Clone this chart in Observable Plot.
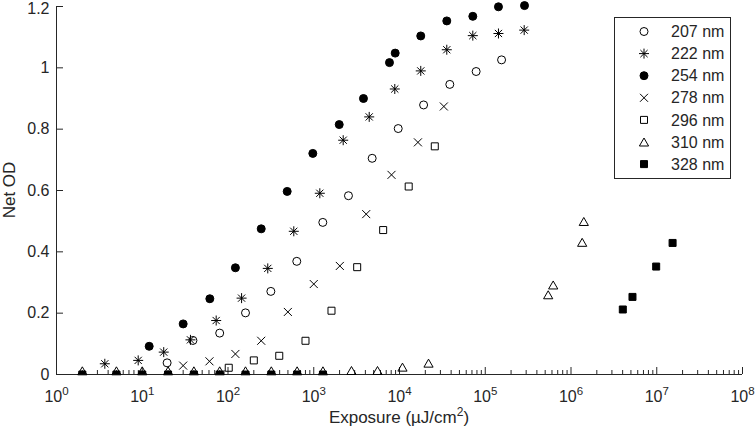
<!DOCTYPE html>
<html><head><meta charset="utf-8">
<script src="https://cdn.jsdelivr.net/npm/d3@7"></script>
<script src="https://cdn.jsdelivr.net/npm/@observablehq/plot@0.6"></script>
<style>body{margin:0;background:#fff}</style>
</head><body><div id="chart"></div>
<script>
// ---- data (exposure in µJ/cm², net OD) ----
const exp207 = [19.5, 39, 80, 160, 316, 634, 1275, 2540, 4800, 9660, 19100, 38600, 78300, 155000];
const od207  = [0.038, 0.111, 0.135, 0.201, 0.271, 0.369, 0.496, 0.583, 0.705, 0.802, 0.879, 0.946, 0.988, 1.026];

const exp222 = [3.66, 8.97, 17.8, 36.5, 72.8, 144, 291, 585, 1177, 2205, 4433, 8810, 17700, 35600, 71600, 142600, 284500];
const od222  = [0.035, 0.046, 0.073, 0.113, 0.176, 0.249, 0.346, 0.467, 0.591, 0.764, 0.840, 0.931, 0.990, 1.059, 1.105, 1.112, 1.123];

const exp254 = [12.05, 30, 61.4, 122, 244, 490, 975, 1982, 3800, 7640, 8910, 17700, 35600, 71600, 142600, 287000];
const od254  = [0.092, 0.165, 0.247, 0.348, 0.475, 0.597, 0.721, 0.815, 0.900, 1.017, 1.048, 1.104, 1.153, 1.168, 1.199, 1.203];

const exp278 = [30, 60.8, 122, 244, 499, 1000, 2015, 4090, 8070, 16400, 32900];
const od278  = [0.029, 0.043, 0.067, 0.110, 0.204, 0.295, 0.354, 0.523, 0.651, 0.757, 0.874];

const exp296 = [102, 200, 396, 801, 1610, 3210, 6450, 12800, 25800];
const od296  = [0.022, 0.046, 0.061, 0.110, 0.208, 0.350, 0.471, 0.613, 0.744];

const exp310 = [2, 5, 10, 20, 40, 80, 160, 320, 640, 1280, 2754, 5540, 10830, 21800, 542000, 620000, 1350000, 1410000];
const od310  = [0.012, 0.012, 0.012, 0.012, 0.012, 0.012, 0.012, 0.012, 0.012, 0.012, 0.013, 0.013, 0.024, 0.037, 0.260, 0.292, 0.431, 0.499];

const exp328 = [2, 5, 10, 20, 40, 80, 160, 320, 640, 1280, 4020000, 5210000, 9850000, 15300000];
const od328  = [0, 0, 0, 0, 0, 0, 0, 0, 0, 0, 0.212, 0.253, 0.352, 0.429];

const seriesNames = ["207 nm", "222 nm", "254 nm", "278 nm", "296 nm", "310 nm", "328 nm"];
const xTicks = [1, 10, 100, 1e3, 1e4, 1e5, 1e6, 1e7, 1e8];
const yTicks = [0, 0.2, 0.4, 0.6, 0.8, 1, 1.2];
const xLabel = "Exposure (\u00B5J/cm";
const yLabel = "Net OD";

// ---- layout ----
const W = 755, H = 430, mL = 56, mR = 13, mT = 6, mB = 56;
const frameW = W - mL - mR, frameH = H - mT - mB;
const ink = "#262626";
const font = "'Liberation Sans', Arial, Helvetica, sans-serif";

const symbols = {
  circle: {draw(c) { c.moveTo(4, 0); c.arc(0, 0, 4, 0, 2 * Math.PI); c.closePath(); }},
  asterisk: {draw(c) { const a = 5, b = 3.6;
    c.moveTo(-a, 0); c.lineTo(a, 0); c.moveTo(0, -a); c.lineTo(0, a);
    c.moveTo(-b, -b); c.lineTo(b, b); c.moveTo(-b, b); c.lineTo(b, -b); }},
  times: {draw(c) { const a = 4; c.moveTo(-a, -a); c.lineTo(a, a); c.moveTo(-a, a); c.lineTo(a, -a); }},
  square: {draw(c) { const a = 3.5; c.moveTo(-a, -a); c.lineTo(a, -a); c.lineTo(a, a); c.lineTo(-a, a); c.closePath(); }},
  triangle: {draw(c) { c.moveTo(0, -4); c.lineTo(4.6, 4); c.lineTo(-4.6, 4); c.closePath(); }}
};

const pts = (xs, ys) => xs.map((x, i) => ({x, y: ys[i]}));
const series = [
  {name: seriesNames[0], data: pts(exp207, od207), sym: symbols.circle, filled: false},
  {name: seriesNames[1], data: pts(exp222, od222), sym: symbols.asterisk, filled: false},
  {name: seriesNames[2], data: pts(exp254, od254), sym: symbols.circle, filled: true},
  {name: seriesNames[3], data: pts(exp278, od278), sym: symbols.times, filled: false},
  {name: seriesNames[4], data: pts(exp296, od296), sym: symbols.square, filled: false},
  {name: seriesNames[5], data: pts(exp310, od310), sym: symbols.triangle, filled: false},
  {name: seriesNames[6], data: pts(exp328, od328), sym: symbols.square, filled: true, clip: true}
];

const minorTicks = [];
for (let e = 0; e < 8; e++) for (let k = 2; k <= 9; k++) minorTicks.push(k * Math.pow(10, e));

const svgNode = Plot.plot({
  width: W, height: H,
  marginLeft: mL, marginRight: mR, marginTop: mT, marginBottom: mB,
  style: {fontFamily: font, fontSize: "16px", color: ink, background: "white", overflow: "visible"},
  x: {type: "log", domain: [1, 1e8], axis: null},
  y: {domain: [0, 1.2], axis: null},
  marks: [
    Plot.tickX(minorTicks, {x: d => d, insetTop: frameH - 4, stroke: ink}),
    Plot.tickX(xTicks, {x: d => d, insetTop: frameH - 7, stroke: ink}),
    Plot.tickY(yTicks, {y: d => d, insetRight: frameW - 7, stroke: ink}),
    Plot.ruleY([0], {stroke: ink}),
    Plot.ruleX([1], {stroke: ink}),
    Plot.axisX(xTicks, {tickSize: 0, tickPadding: 16.5, label: null, fontSize: 16,
      tickFormat: d => "10^" + Math.round(Math.log10(d))}),
    Plot.axisY(yTicks, {tickSize: 0, tickPadding: 7, label: null, fontSize: 16,
      tickFormat: d => String(d)}),
    ...series.map(s => Plot.dot(s.data, {
      x: "x", y: "y", symbol: s.sym, r: 4,
      fill: s.filled ? "black" : "none", stroke: "black", strokeWidth: 1,
      clip: !!s.clip
    }))
  ]
});
document.getElementById("chart").appendChild(svgNode);

const svg = d3.select(svgNode);
// superscript exponents on x tick labels
svg.selectAll('g[aria-label="x-axis tick label"] text').each(function () {
  const parts = this.textContent.split("^");
  this.textContent = "";
  const t = d3.select(this);
  t.append("tspan").text(parts[0]);
  t.append("tspan").attr("dy", -7).attr("font-size", 11.5).text(parts[1]);
});
// the top y label sits a little lower in the reference
svg.selectAll('g[aria-label="y-axis tick label"] text').each(function () {
  if (this.textContent === "1.2") {
    const tr = this.getAttribute("transform") || "";
    this.setAttribute("transform", tr + " translate(0,2.5)");
  }
});

// axis titles
const xl = svg.append("text").attr("x", mL + frameW / 2).attr("y", 423)
  .attr("text-anchor", "middle").attr("fill", ink).attr("font-size", 17).attr("font-family", font);
xl.append("tspan").text(xLabel);
xl.append("tspan").attr("dy", -7).attr("font-size", 12).text("2");
xl.append("tspan").attr("dy", 7).attr("font-size", 17).text(")");

svg.append("text").attr("transform", `translate(15,${mT + frameH / 2}) rotate(-90)`)
  .attr("text-anchor", "middle").attr("fill", ink).attr("font-size", 17).attr("font-family", font)
  .text(yLabel);

// legend
const lg = svg.append("g").attr("font-family", font).attr("font-size", 16).attr("text-anchor", "start");
lg.append("rect").attr("x", 614.5).attr("y", 17.5).attr("width", 116).attr("height", 161)
  .attr("fill", "white").attr("stroke", ink);
series.forEach((s, i) => {
  const cy = 31.5 + i * 22.1;
  lg.append("path").attr("d", d3.symbol(s.sym)())
    .attr("transform", `translate(644,${cy})`)
    .attr("fill", s.filled ? "black" : "none").attr("stroke", "black");
  lg.append("text").attr("x", 671).attr("y", cy).attr("dy", "0.35em")
    .attr("text-anchor", "start").attr("fill", ink).text(s.name);
});
</script>
</body></html>
